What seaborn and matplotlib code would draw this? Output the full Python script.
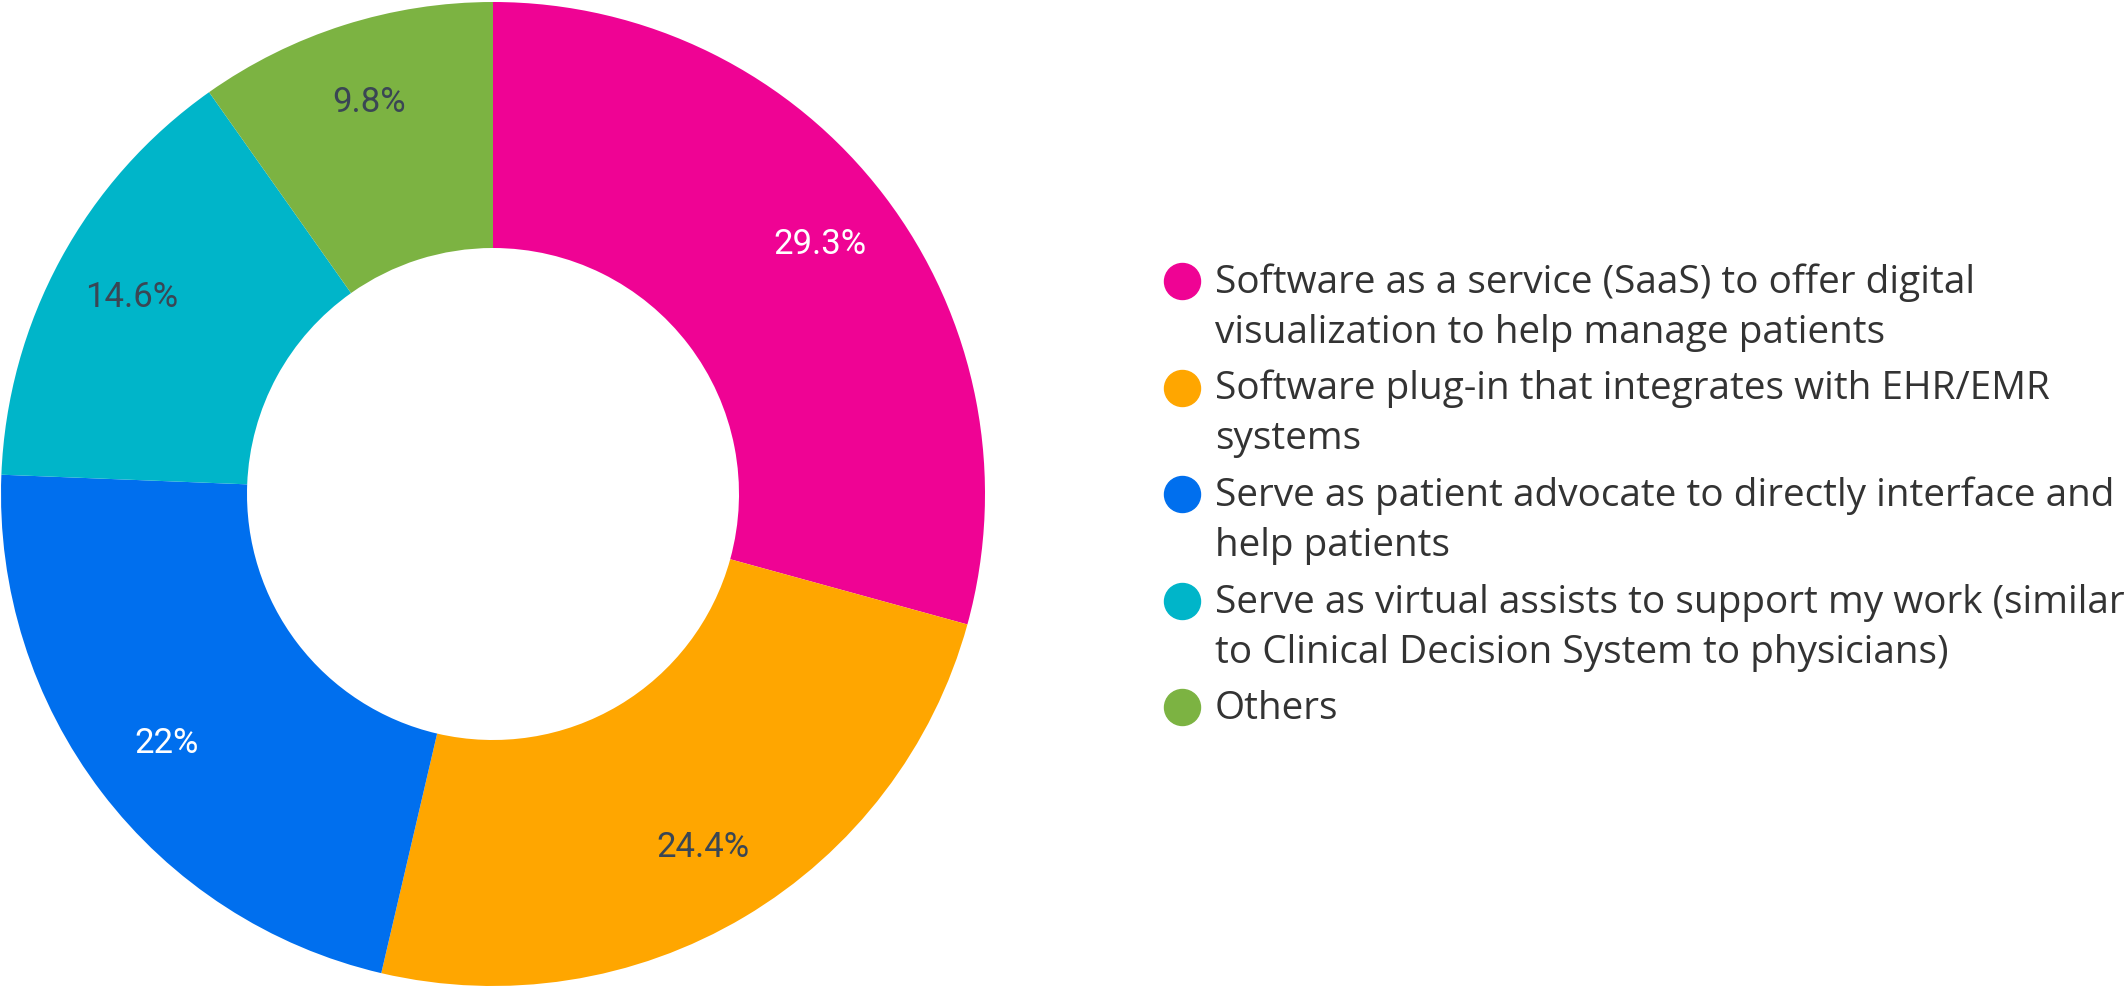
import numpy as np
import matplotlib
matplotlib.use("Agg")
import matplotlib.pyplot as plt
import seaborn as sns

# survey shares (percent) as printed on the donut
categories = [
    "Software as a service (SaaS) to offer digital\nvisualization to help manage patients",
    "Software plug-in that integrates with EHR/EMR\nsystems",
    "Serve as patient advocate to directly interface and\nhelp patients",
    "Serve as virtual assists to support my work (similar\nto Clinical Decision System to physicians)",
    "Others",
]
shares = [29.3, 24.4, 22.0, 14.6, 9.8]
share_labels = ["29.3%", "24.4%", "22%", "14.6%", "9.8%"]

colors = ["#EF0394", "#FFA600", "#006FEE", "#00B5C9", "#7CB342"]
label_colors = ["white", "#3A4654", "white", "#3A4654", "#3A4654"]

sns.set_theme(style="white")
plt.rcParams["font.family"] = ["Open Sans", "DejaVu Sans"]

W, H = 2128, 990
fig = plt.figure(figsize=(W / 100, H / 100), dpi=100)

# donut: centre (493, 494) px from top-left, outer radius 492 px
cx, cy, R = 493, 494, 492
ax = fig.add_axes([(cx - R) / W, (H - cy - R) / H, 2 * R / W, 2 * R / H])
wedges, _ = ax.pie(shares, colors=colors, startangle=90, counterclock=False,
                   radius=1, wedgeprops=dict(width=0.5, linewidth=0))
ax.set_xlim(-1, 1)
ax.set_ylim(-1, 1)
ax.set_aspect("equal")
ax.axis("off")

for w, lab, lc in zip(wedges, share_labels, label_colors):
    ang = np.deg2rad((w.theta1 + w.theta2) / 2)
    ax.text(0.835 * np.cos(ang), 0.835 * np.sin(ang), lab, ha="center", va="center",
            color=lc, fontsize=25, family=["Roboto", "DejaVu Sans"])

# legend drawn in pixel coordinates on the right
lax = fig.add_axes([0, 0, 1, 1])
lax.set_xlim(0, W)
lax.set_ylim(H, 0)
lax.axis("off")

base = 293
for c, txt in zip(colors, categories):
    lax.scatter([1182], [base - 12], s=36 ** 2 * 0.72 ** 2, color=c, zorder=3)
    for i, line in enumerate(txt.split("\n")):
        lax.text(1215, base + 50 * i, line, ha="left", va="baseline",
                 fontsize=27.9, color="#333333")
    base += 50 * len(txt.split("\n")) + 6.5

fig.savefig("out.png", dpi=100)
